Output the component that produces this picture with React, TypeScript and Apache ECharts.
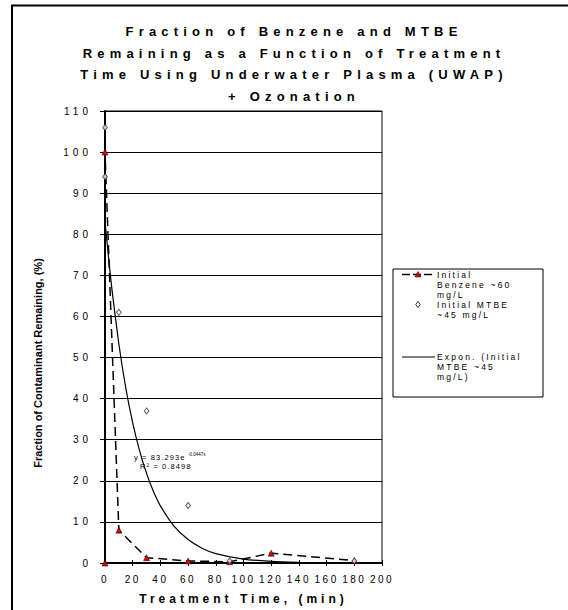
import React, { useEffect, useRef } from "react";
import * as echarts from "echarts";

// ---- text ----
const titleLines = [
  "Fraction of Benzene and MTBE",
  "Remaining as a Function of Treatment",
  "Time Using Underwater Plasma (UWAP)",
  "+ Ozonation",
];
const xTitle = "Treatment Time, (min)";
const yTitle = "Fraction of Contaminant Remaining, (%)";

// ---- axes ----
const xMin = 0;
const xMax = 200;
const xStep = 20;
const yMin = 0;
const yMax = 110;
const yStep = 10;

// ---- series ----
const benzeneName = "Initial Benzene ~60 mg/L";
const benzeneLegend = ["Initial", "Benzene ~60", "mg/L"];
const benzene: [number, number][] = [
  [0, 0],
  [0, 100],
  [10, 8],
  [30, 1.3],
  [60, 0.5],
  [90, 0.3],
  [120, 2.4],
  [180, 0.6],
];

const mtbeName = "Initial MTBE ~45 mg/L";
const mtbeLegend = ["Initial MTBE", "~45 mg/L"];
const mtbe: [number, number][] = [
  [0, 106],
  [0, 94],
  [10, 61],
  [30, 37],
  [60, 14],
  [90, 0.5],
  [180, 0.5],
];

const trendName = "Expon. (Initial MTBE ~45 mg/L)";
const trendLegend = ["Expon. (Initial", "MTBE ~45", "mg/L)"];
// points
const trend: [number, number][] = [
  [0, 83.3],
  [2, 76.2],
  [5, 66.6],
  [10, 53.3],
  [15, 42.6],
  [20, 34.1],
  [25, 27.3],
  [30, 21.8],
  [35, 17.4],
  [40, 13.9],
  [50, 8.9],
  [60, 5.7],
  [70, 3.6],
  [80, 2.3],
  [100, 0.95],
  [120, 0.39],
  [140, 0.16],
  [160, 0.065],
  [180, 0.027],
];

const fitEquation = "y = 83.293e";
const fitExponent = "-0.0447x";
const fitR2 = "R\u00b2 = 0.8498";

const FONT = "Liberation Sans";

export default function App() {
  const ref = useRef<HTMLDivElement>(null);

  useEffect(() => {
    if (!ref.current) return;
    const chart = echarts.init(ref.current, null, { renderer: "svg" });

    const legText = (t: string, x: number, y: number) => ({
      type: "text",
      x,
      y,
      silent: true,
      style: {
        text: t,
        fontSize: 8.5,
        fontFamily: FONT + ", zzLeg",
        fill: "#000",
        textAlign: "left",
        textVerticalAlign: "middle",
      },
    });

    const graphic: any[] = [
      {
        type: "rect",
        shape: { x: 12, y: 5.5, width: 900, height: 900 },
        style: { fill: "none", stroke: "#000", lineWidth: 2 },
        silent: true,
        z: -10,
      },
      {
        type: "text",
        x: 294,
        y: 20.5,
        silent: true,
        style: {
          text: titleLines.join("\n"),
          fontSize: 13,
          fontWeight: "bold",
          fontFamily: FONT + ", zzTitle",
          lineHeight: 21.7,
          fill: "#000",
          textAlign: "center",
          textVerticalAlign: "top",
        },
      },
      {
        type: "text",
        x: 38,
        y: 363,
        rotation: Math.PI / 2,
        silent: true,
        style: {
          text: yTitle,
          fontSize: 11,
          fontWeight: "bold",
          fontFamily: FONT,
          fill: "#000",
          textAlign: "center",
          textVerticalAlign: "middle",
        },
      },
      // fit annotation
      {
        type: "text",
        x: 134,
        y: 457.5,
        silent: true,
        style: {
          text: fitEquation,
          fontSize: 7.5,
          fontFamily: FONT + ", zzFit",
          fill: "#000",
          textAlign: "left",
          textVerticalAlign: "middle",
        },
      },
      {
        type: "text",
        x: 188,
        y: 454,
        silent: true,
        style: {
          text: fitExponent,
          fontSize: 4.5,
          fontFamily: FONT,
          fill: "#000",
          textAlign: "left",
          textVerticalAlign: "middle",
        },
      },
      {
        type: "text",
        x: 140,
        y: 466.5,
        silent: true,
        style: {
          text: fitR2,
          fontSize: 7.5,
          fontFamily: FONT + ", zzFit",
          fill: "#000",
          textAlign: "left",
          textVerticalAlign: "middle",
        },
      },
      // legend
      {
        type: "rect",
        shape: { x: 393, y: 269, width: 150, height: 128 },
        style: { fill: "#fff", stroke: "#000", lineWidth: 1 },
        silent: true,
      },
      {
        type: "line",
        shape: { x1: 402, y1: 274.5, x2: 434, y2: 274.5 },
        style: { stroke: "#000", lineWidth: 1.5, lineDash: [8, 3] },
        silent: true,
      },
      {
        type: "polygon",
        shape: { points: [[418, 271.5], [421, 277], [415, 277]] },
        style: { fill: "#e00000", stroke: "#000", lineWidth: 0.5 },
        silent: true,
      },
      legText(benzeneLegend[0], 437, 274.5),
      legText(benzeneLegend[1], 437, 284.5),
      legText(benzeneLegend[2], 437, 294.5),
      {
        type: "polygon",
        shape: { points: [[418, 301.5], [420.3, 304.5], [418, 307.5], [415.7, 304.5]] },
        style: { fill: "#fff", stroke: "#333", lineWidth: 1 },
        silent: true,
      },
      legText(mtbeLegend[0], 437, 304.5),
      legText(mtbeLegend[1], 437, 314.5),
      {
        type: "line",
        shape: { x1: 402, y1: 357, x2: 435, y2: 357 },
        style: { stroke: "#000", lineWidth: 1.2 },
        silent: true,
      },
      legText(trendLegend[0], 437, 357),
      legText(trendLegend[1], 437, 367),
      legText(trendLegend[2], 437, 377),
    ];

    chart.setOption({
      animation: false,
      backgroundColor: "#fff",
      grid: {
        left: 105,
        right: 568 - 382,
        top: 111,
        bottom: 610 - 566,
        show: true,
        borderColor: "#000",
        borderWidth: 1,
        backgroundColor: "transparent",
      },
      xAxis: [
        {
          type: "value",
          min: xMin,
          max: xMax,
          interval: xStep,
          name: xTitle,
          nameLocation: "middle",
          nameGap: 30,
          nameTextStyle: {
            fontSize: 12,
            fontWeight: "bold",
            fontFamily: FONT + ", zzXName",
            color: "#000",
          },
          axisLine: { show: true, lineStyle: { color: "#000", width: 2 } },
          axisTick: { show: true, length: 3, lineStyle: { color: "#000" } },
          axisLabel: {
            fontSize: 10,
            fontFamily: FONT + ", zzTickX",
            color: "#000",
            margin: 11,
          },
          splitLine: { show: false },
        },
        {
          type: "value",
          min: xMin,
          max: xMax,
          interval: xStep,
          position: "bottom",
          axisLine: { show: false },
          axisTick: { show: true, inside: true, length: 3, lineStyle: { color: "#000" } },
          axisLabel: { show: false },
          splitLine: { show: false },
        },
      ],
      yAxis: {
        type: "value",
        min: yMin,
        max: yMax,
        interval: yStep,
        axisLine: { show: true, lineStyle: { color: "#000", width: 2 } },
        axisTick: { show: true, length: 5, lineStyle: { color: "#000" } },
        axisLabel: {
          fontSize: 10,
          fontFamily: FONT + ", zzTickY",
          color: "#000",
          margin: 13,
        },
        splitLine: { show: true, lineStyle: { color: "#000", width: 1 } },
      },
      series: [
        {
          name: trendName,
          type: "line",
          data: trend,
          showSymbol: false,
          smooth: 0.2,
          lineStyle: { color: "#000", width: 1.2 },
          z: 2,
        },
        {
          name: benzeneName,
          type: "line",
          data: benzene,
          symbol: "triangle",
          symbolSize: 6,
          lineStyle: { color: "#000", width: 1.5, type: [9, 5] },
          itemStyle: { color: "#e00000", borderColor: "#000", borderWidth: 0.5 },
          z: 3,
        },
        {
          name: mtbeName,
          type: "scatter",
          data: mtbe,
          symbol: "diamond",
          symbolSize: [4.6, 6],
          itemStyle: { color: "#fff", borderColor: "#333", borderWidth: 1 },
          z: 4,
        },
      ],
      graphic,
    });

    return () => chart.dispose();
  }, []);

  return (
    <>
      <style>{`
        text[style*="zzTitle"] { letter-spacing: 5.2px; }
        text[style*="zzTickX"] { letter-spacing: 2.5px; }
        text[style*="zzTickY"] { letter-spacing: 4px; }
        text[style*="zzXName"] { letter-spacing: 4px; }
        text[style*="zzLeg"] { letter-spacing: 2.2px; }
        text[style*="zzFit"] { letter-spacing: 1.1px; }
      `}</style>
      <div
        ref={ref}
        style={{ position: "absolute", left: 0, top: 0, width: 568, height: 610 }}
      />
    </>
  );
}
